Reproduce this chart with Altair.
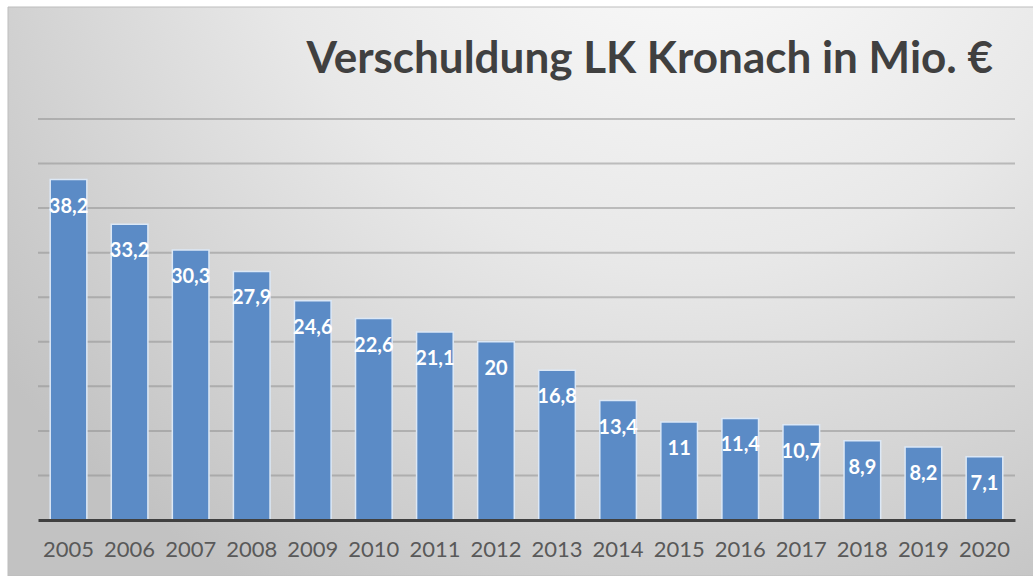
import altair as alt
import pandas as pd

years = [str(y) for y in range(2005, 2021)]
values = [38.2, 33.2, 30.3, 27.9, 24.6, 22.6, 21.1, 20, 16.8, 13.4, 11, 11.4, 10.7, 8.9, 8.2, 7.1]
labels = [f"{v:g}".replace(".", ",") for v in values]
grid_values = [5, 10, 15, 20, 25, 30, 35, 40, 45]
title_text = "Verschuldung LK Kronach in Mio. €"

df = pd.DataFrame({"year": years, "value": values, "label": labels})
gdf = pd.DataFrame({"g": grid_values})

W, H = 977, 401
yscale = alt.Scale(domain=[0, 45], nice=False)

bg = alt.Chart(pd.DataFrame({"k": [0]})).mark_rect(
    color=alt.Gradient(
        gradient="radial",
        stops=[
            alt.GradientStop(color="#ffffff", offset=0),
            alt.GradientStop(color="#e8e8e8", offset=0.5),
            alt.GradientStop(color="#c2c2c2", offset=1),
        ],
        x1=0.66, y1=0.05, r1=0, x2=0.66, y2=0.05, r2=0.85,
    ),
    stroke="#bdbdbd",
    strokeWidth=1,
).encode(
    x=alt.value(-30), x2=alt.value(W + 20),
    y=alt.value(-112), y2=alt.value(H + 56),
)

grid = alt.Chart(gdf).mark_rule(color="#8c8c8c", opacity=0.5, strokeWidth=2).encode(
    y=alt.Y("g:Q", scale=yscale, axis=None),
    x=alt.value(0), x2=alt.value(W),
)

xenc = alt.X(
    "year:N",
    sort=years,
    title=None,
    scale=alt.Scale(paddingInner=0.4, paddingOuter=0.2),
    axis=alt.Axis(
        labelAngle=0, labelFont="Lato", labelFontSize=22, labelColor="#595959",
        labelPadding=19, ticks=False, domainColor="#404040", domainWidth=3,
        grid=False, zindex=1,
    ),
)
yenc = alt.Y("value:Q", title=None, scale=yscale, axis=None)

bars = alt.Chart(df).mark_bar(
    color="#5b8bc6", stroke="#dce8f6", strokeWidth=1.5
).encode(x=xenc, y=yenc)

text = alt.Chart(df).mark_text(
    font="Lato", fontWeight="bold", fontSize=20, color="white",
    baseline="middle", dy=27,
).encode(x=alt.X("year:N", sort=years), y="value:Q", text="label:N")

chart = alt.layer(bg, grid, bars, text).properties(
    width=W, height=H,
    title=alt.TitleParams(
        title_text, anchor="end", frame="group", font="Lato", fontWeight="bold",
        fontSize=44, color="#404040", baseline="alphabetic", offset=-110, dx=-22,
    ),
    autosize=alt.AutoSizeParams(type="none"),
    padding={"left": 38, "top": 119, "right": 18, "bottom": 56},
).configure(background="white").configure_view(stroke=None)

chart.save("out.html", embed_options={"renderer": "svg", "actions": False})
